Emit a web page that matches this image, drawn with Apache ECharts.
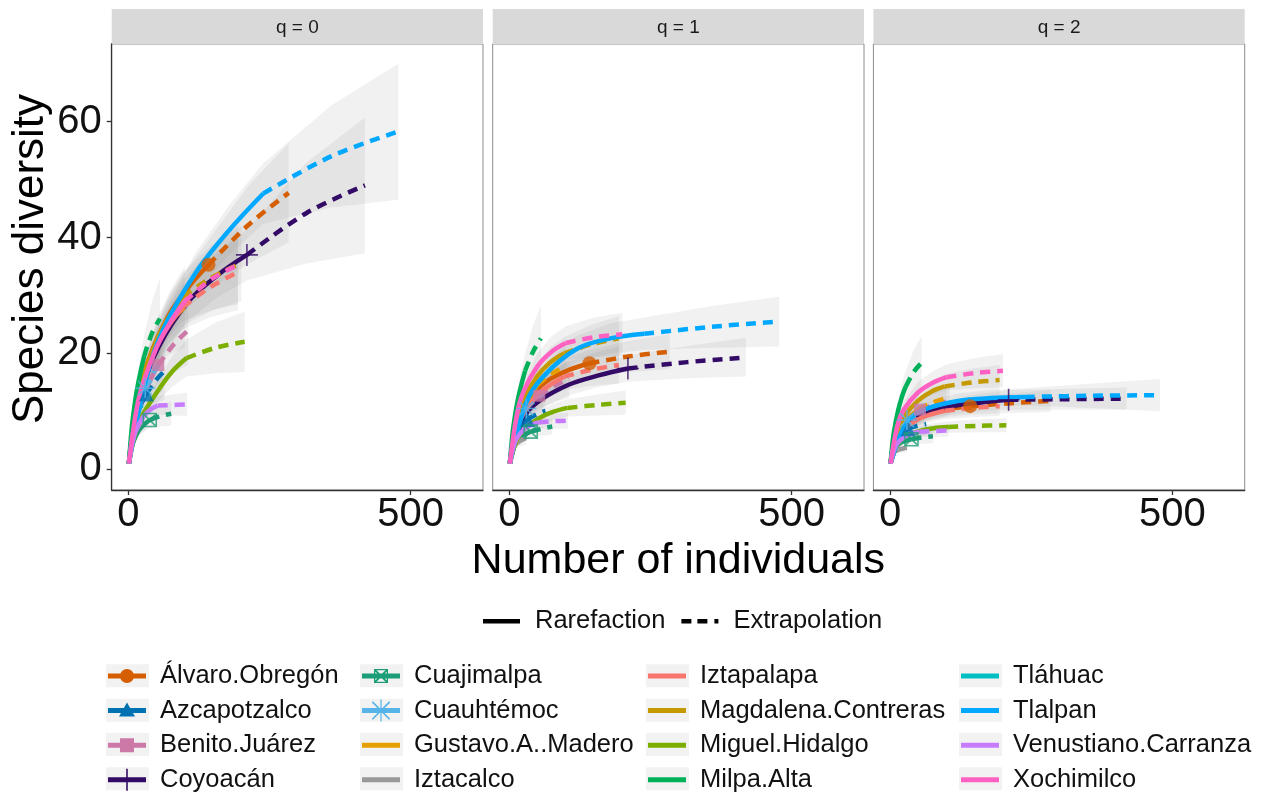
<!DOCTYPE html>
<html>
<head>
<meta charset="utf-8">
<title>Species diversity</title>
<script src="https://cdn.jsdelivr.net/npm/echarts@6/dist/echarts.min.js"></script>
<style>
  html, body { margin: 0; padding: 0; background: #fff; }
  #chart { width: 1261px; height: 793px; }
</style>
</head>
<body>
<div id="chart"></div>
<script>
// --- data ---
const sites = ['Álvaro.Obregón', 'Azcapotzalco', 'Benito.Juárez', 'Coyoacán',
  'Cuajimalpa', 'Cuauhtémoc', 'Gustavo.A..Madero', 'Iztacalco',
  'Iztapalapa', 'Magdalena.Contreras', 'Miguel.Hidalgo', 'Milpa.Alta',
  'Tláhuac', 'Tlalpan', 'Venustiano.Carranza', 'Xochimilco'];
const facets = ['q = 0', 'q = 1', 'q = 2'];
const xTicks = [0, 500];
const yTicks = [0, 20, 40, 60];
const lineTypes = ['Rarefaction', 'Extrapolation'];

// sample sizes m per site; index 5 is the observed sample, the rest after it is extrapolated
const sizeM = [
  [1, 18, 36, 71, 107, 142, 213, 284],
  [1, 4, 8, 16, 24, 32, 48, 64],
  [1, 7, 13, 27, 40, 53, 80, 106],
  [1, 26, 53, 105, 158, 210, 315, 419],
  [1, 5, 10, 19, 29, 38, 57, 76],
  [1, 4, 8, 15, 23, 30, 45, 60],
  [1, 6, 13, 25, 38, 50, 75, 100],
  [1, 2, 4, 8, 11, 15, 23, 30],
  [1, 12, 24, 49, 73, 97, 146, 194],
  [1, 12, 24, 49, 73, 97, 146, 194],
  [1, 13, 26, 52, 77, 103, 155, 206],
  [1, 4, 7, 14, 21, 28, 42, 56],
  [1, 2, 3, 6, 9, 12, 18, 24],
  [1, 30, 60, 120, 179, 239, 359, 478],
  [1, 7, 13, 26, 39, 52, 78, 104],
  [1, 13, 25, 50, 75, 100, 150, 200]
];
const obsIndex = 5;

const q0Est = [
  [1, 12.5, 19, 26.5, 31.5, 35.3, 42.2, 47.7],
  [1, 3.8, 6.3, 9.5, 11.5, 13, 15.3, 17],
  [1, 5.5, 8.5, 12.8, 15.6, 18, 21.5, 24],
  [1, 14, 21, 28.8, 33.5, 37, 44.2, 49],
  [1, 3.3, 5, 6.8, 7.8, 8.5, 9.2, 9.6],
  [1, 3.8, 6.3, 9.6, 12, 14, 16.8, 19],
  [1, 5.2, 9, 14.3, 18.5, 22, 25.5, 28],
  [1, 1.9, 3.3, 5, 6, 7, 8.2, 9],
  [1, 9.5, 14.5, 21, 25, 28, 31.5, 34],
  [1, 10, 15.2, 22, 26.5, 29.8, 33, 35.3],
  [1, 6.5, 9.5, 13.5, 16.8, 19.2, 21, 22],
  [1, 4.8, 8, 13, 16.5, 19.5, 23.5, 26],
  [1, 1.9, 2.8, 4.9, 6.6, 8, 10, 11],
  [1, 15, 23.8, 34, 41.3, 47.6, 54, 58.3],
  [1, 4.4, 6.6, 9, 10.3, 11, 11.1, 11.2],
  [1, 9.5, 14.5, 21, 25.5, 29, 33, 35.5]
];
const q0Lo = [
  [1, 10.5, 16.5, 23.5, 28, 31, 35.5, 39.2],
  [1, 3, 5.2, 7.8, 9.3, 10.3, 11.3, 12],
  [1, 4.6, 7.2, 10.8, 13, 14.8, 16.8, 18],
  [1, 12, 18.3, 25.5, 29.7, 32.6, 35.5, 37.3],
  [1, 2.8, 4.3, 5.8, 6.6, 7.1, 7.4, 7.5],
  [1, 3.2, 5.3, 8, 9.8, 11.2, 12.5, 13.4],
  [1, 4.4, 7.7, 12.2, 15.6, 18.2, 20, 21],
  [1, 1.6, 2.8, 4.2, 5, 5.7, 6.4, 6.8],
  [1, 8.2, 12.6, 18.4, 21.8, 24.2, 26.3, 27.5],
  [1, 8.6, 13.2, 19.1, 22.9, 25.6, 27.4, 28.5],
  [1, 5.6, 8.2, 11.6, 14.2, 16, 16.6, 16.8],
  [1, 4, 6.8, 11, 13.8, 16, 18, 19],
  [1, 1.6, 2.4, 4.1, 5.5, 6.5, 7.5, 8],
  [1, 13, 21, 30.5, 37, 42.4, 45.2, 46.5],
  [1, 3.8, 5.7, 7.8, 8.9, 9.4, 9.3, 9.2],
  [1, 8.2, 12.6, 18.3, 22.1, 25, 27.5, 29]
];
const q0Hi = [
  [1, 14.5, 21.5, 29.5, 35, 39.6, 49, 56.3],
  [1, 4.6, 7.4, 11.2, 13.7, 15.7, 19.3, 22],
  [1, 6.4, 9.8, 14.8, 18.2, 21.2, 26.2, 30],
  [1, 16, 23.7, 32.1, 37.3, 41.4, 52.9, 60.7],
  [1, 3.8, 5.7, 7.8, 9, 9.9, 11, 11.7],
  [1, 4.4, 7.3, 11.2, 14.2, 16.8, 21.1, 24.6],
  [1, 6, 10.3, 16.4, 21.4, 25.8, 31, 35],
  [1, 2.2, 3.8, 5.8, 7, 8.3, 10, 11.2],
  [1, 10.8, 16.4, 23.6, 28.2, 31.8, 36.7, 40.5],
  [1, 11.4, 17.2, 24.9, 30.1, 34, 38.6, 42.1],
  [1, 7.4, 10.8, 15.4, 19.4, 22.4, 25.4, 27.2],
  [1, 5.6, 9.2, 15, 19.2, 23, 29, 33],
  [1, 2.2, 3.2, 5.7, 7.7, 9.5, 12.5, 14],
  [1, 17, 26.6, 37.5, 45.6, 52.8, 62.8, 70],
  [1, 5, 7.5, 10.2, 11.7, 12.6, 12.9, 13.2],
  [1, 10.8, 16.4, 23.7, 28.9, 33, 38.5, 42]
];

const q1Est = [
  [1, 9.5, 12.5, 15.5, 17.2, 18.3, 19.5, 20.3],
  [1, 3.5, 5.3, 7.1, 8, 8.6, 9.5, 10.1],
  [1, 4.8, 7, 9.8, 11.5, 12.7, 14.4, 15.6],
  [1, 9, 11.8, 14.6, 16.2, 17.4, 18.5, 19.3],
  [1, 3, 4.3, 5.5, 6.1, 6.5, 7, 7.4],
  [1, 3.5, 5.4, 7.8, 9.3, 10.5, 11.9, 13],
  [1, 4.5, 7.2, 10.5, 12.8, 14.6, 16.5, 17.8],
  [1, 1.8, 2.9, 3.9, 4.3, 4.6, 5.1, 5.4],
  [1, 6.5, 9.5, 12.8, 14.6, 16, 17.2, 18],
  [1, 8, 11.8, 16, 18.5, 20, 21.6, 22.6],
  [1, 5, 6.9, 8.8, 9.9, 10.6, 11.1, 11.5],
  [1, 4.5, 7.2, 11.5, 14.5, 17, 20.3, 22.6],
  [1, 1.8, 2.6, 4.2, 5.4, 6.3, 7.4, 8],
  [1, 11.5, 16, 20.8, 22.6, 23.4, 24.6, 25.5],
  [1, 3.8, 5.3, 6.9, 7.7, 8.1, 8.3, 8.4],
  [1, 9.2, 13.4, 17.8, 20.3, 21.8, 22.8, 23.3]
];
const q1Lo = [
  [1, 8, 10.8, 13.5, 15, 16, 16.8, 17.3],
  [1, 2.9, 4.4, 5.9, 6.6, 7, 7.5, 7.8],
  [1, 4, 5.9, 8.2, 9.6, 10.5, 11.6, 12.3],
  [1, 7.8, 10.3, 12.8, 14.2, 15.1, 15.7, 16],
  [1, 2.6, 3.7, 4.7, 5.2, 5.5, 5.8, 6],
  [1, 3, 4.6, 6.6, 7.8, 8.7, 9.5, 10.1],
  [1, 3.8, 6.1, 8.9, 10.8, 12.2, 13.4, 14.1],
  [1, 1.6, 2.5, 3.3, 3.6, 3.8, 4.1, 4.3],
  [1, 5.6, 8.2, 11, 12.6, 13.7, 14.4, 14.8],
  [1, 6.9, 10.2, 13.8, 15.9, 17.2, 18.2, 18.8],
  [1, 4.3, 6, 7.6, 8.5, 9.1, 9.3, 9.4],
  [1, 3.8, 6, 9.6, 12, 14, 15.8, 16.8],
  [1, 1.6, 2.2, 3.6, 4.6, 5.3, 5.9, 6.2],
  [1, 10.2, 14.2, 18.5, 20, 20.6, 21, 21.2],
  [1, 3.3, 4.6, 6, 6.7, 7, 7, 7],
  [1, 8, 11.7, 15.5, 17.6, 18.9, 19.4, 19.6]
];
const q1Hi = [
  [1, 11, 14.2, 17.5, 19.4, 20.6, 22.2, 23.3],
  [1, 4.1, 6.2, 8.3, 9.4, 10.2, 11.5, 12.4],
  [1, 5.6, 8.1, 11.4, 13.4, 14.9, 17.2, 18.9],
  [1, 10.2, 13.3, 16.4, 18.2, 19.7, 21.3, 22.7],
  [1, 3.4, 4.9, 6.3, 7, 7.5, 8.2, 8.8],
  [1, 4, 6.2, 9, 10.8, 12.3, 14.3, 15.9],
  [1, 5.2, 8.3, 12.1, 14.8, 17, 19.6, 21.5],
  [1, 2, 3.3, 4.5, 5, 5.4, 6.1, 6.5],
  [1, 7.4, 10.8, 14.6, 16.6, 18.3, 20, 21.2],
  [1, 9.1, 13.4, 18.2, 21.1, 22.8, 25, 26.4],
  [1, 5.7, 7.8, 10, 11.3, 12.1, 12.9, 13.6],
  [1, 5.2, 8.4, 13.4, 17, 20, 24.8, 28.4],
  [1, 2, 3, 4.8, 6.2, 7.3, 8.9, 9.8],
  [1, 12.8, 17.8, 23.1, 25.2, 26.2, 28.2, 29.8],
  [1, 4.3, 6, 7.8, 8.7, 9.2, 9.6, 9.8],
  [1, 10.4, 15.1, 20.1, 23, 24.7, 26.2, 27]
];

const q2Est = [
  [1, 7, 8.6, 9.8, 10.5, 10.9, 11.4, 11.8],
  [1, 3.2, 4.6, 6, 6.6, 7, 7.5, 7.8],
  [1, 4.3, 6.1, 8.3, 9.5, 10.3, 11.2, 11.8],
  [1, 7.5, 9.3, 10.8, 11.5, 12, 12.1, 12.2],
  [1, 2.8, 3.8, 4.6, 5, 5.2, 5.5, 5.7],
  [1, 3.2, 4.7, 6.5, 7.6, 8.5, 9.2, 9.6],
  [1, 4, 5.8, 7.9, 9.3, 10.4, 11.5, 12.3],
  [1, 1.7, 2.5, 3, 3.2, 3.4, 3.6, 3.7],
  [1, 5, 6.8, 8.6, 9.5, 10.1, 10.6, 10.9],
  [1, 6.5, 9, 11.8, 13.4, 14.3, 15, 15.4],
  [1, 4.3, 5.6, 6.6, 7.1, 7.3, 7.5, 7.6],
  [1, 4.2, 6.5, 10, 12.5, 14.3, 16.8, 18.4],
  [1, 1.7, 2.4, 3.7, 4.6, 5.2, 5.8, 6.1],
  [1, 8.2, 10.3, 11.8, 12.3, 12.5, 12.7, 12.8],
  [1, 3.3, 4.5, 5.6, 6.2, 6.5, 6.6, 6.7],
  [1, 7.5, 10.4, 13.3, 14.9, 15.9, 16.6, 17]
];
const q2Lo = [
  [1, 6, 7.4, 8.5, 9.1, 9.4, 9.7, 9.9],
  [1, 2.7, 3.8, 4.9, 5.3, 5.5, 5.7, 5.8],
  [1, 3.7, 5.2, 7, 8, 8.6, 9.1, 9.4],
  [1, 6.5, 8.1, 9.4, 10, 10.3, 10.3, 10.3],
  [1, 2.4, 3.2, 3.9, 4.2, 4.3, 4.4, 4.5],
  [1, 2.8, 4, 5.5, 6.4, 7, 7.4, 7.6],
  [1, 3.4, 5, 6.7, 7.9, 8.8, 9.5, 9.9],
  [1, 1.5, 2.2, 2.6, 2.7, 2.8, 2.9, 2.9],
  [1, 4.4, 5.9, 7.5, 8.2, 8.7, 9, 9.2],
  [1, 5.6, 7.8, 10.2, 11.5, 12.2, 12.6, 12.8],
  [1, 3.8, 4.9, 5.8, 6.2, 6.3, 6.4, 6.4],
  [1, 3.6, 5.5, 8.4, 10.3, 11.6, 13, 13.8],
  [1, 1.5, 2.1, 3.2, 3.9, 4.4, 4.7, 4.9],
  [1, 7.3, 9.2, 10.5, 10.9, 11, 10.6, 10],
  [1, 2.9, 3.9, 4.9, 5.4, 5.6, 5.6, 5.6],
  [1, 6.5, 9, 11.5, 12.9, 13.7, 14, 14.1]
];
const q2Hi = [
  [1, 8, 9.8, 11.1, 11.9, 12.4, 13.1, 13.7],
  [1, 3.7, 5.4, 7.1, 7.9, 8.5, 9.3, 9.8],
  [1, 4.9, 7, 9.6, 11, 12, 13.3, 14.2],
  [1, 8.5, 10.5, 12.2, 13, 13.7, 13.9, 14.1],
  [1, 3.2, 4.4, 5.3, 5.8, 6.1, 6.6, 6.9],
  [1, 3.6, 5.4, 7.5, 8.8, 10, 11, 11.6],
  [1, 4.6, 6.6, 9.1, 10.7, 12, 13.5, 14.7],
  [1, 1.9, 2.8, 3.4, 3.7, 4, 4.3, 4.5],
  [1, 5.6, 7.7, 9.7, 10.8, 11.5, 12.2, 12.6],
  [1, 7.4, 10.2, 13.4, 15.3, 16.4, 17.4, 18],
  [1, 4.8, 6.3, 7.4, 8, 8.3, 8.6, 8.8],
  [1, 4.8, 7.5, 11.6, 14.7, 17, 20.6, 23],
  [1, 1.9, 2.7, 4.2, 5.3, 6, 6.9, 7.3],
  [1, 9.1, 11.4, 13.1, 13.7, 14, 14.8, 15.6],
  [1, 3.7, 5.1, 6.3, 7, 7.4, 7.6, 7.8],
  [1, 8.5, 11.8, 15.1, 16.9, 18.1, 19.2, 19.9]
];

// --- styles ---
const colors = ['#D55E00', '#0072B2', '#CC79A7', '#330A66', '#1B9E77', '#56B4E9',
  '#E69F00', '#999999', '#F8766D', '#C49A00', '#7CAE00', '#00B159',
  '#00BFC4', '#00A9FF', '#C77CFF', '#FF61C3'];
const fontFamily = '"Liberation Sans", Arial, sans-serif';

const qEst = [q0Est, q1Est, q2Est];
const qLo = [q0Lo, q1Lo, q2Lo];
const qHi = [q0Hi, q1Hi, q2Hi];

// panel geometry (pixels)
const panelLeft = [111.7, 492.7, 873.4];
const panelWidth = 371.3;
const panelTop = 44;
const panelHeight = 446;
const xMin = -29.4, xMax = 628;
const yMin = -3.57, yMax = 73.4;

// markers at the observed sample for the first six sites
const markerSymbols = [
  { symbol: 'circle', size: 14, fill: true },
  { symbol: 'triangle', size: 15, fill: true },
  { symbol: 'rect', size: 12, fill: true },
  { symbol: 'path://M10,0L10,20M0,10L20,10', size: 22, fill: false },
  { symbol: 'path://M0,0L12,0L12,12L0,12ZM0,0L12,12M12,0L0,12', size: 13, fill: false },
  { symbol: 'path://M10,0L10,20M0,10L20,10M3,3L17,17M17,3L3,17', size: 20, fill: false }
];

// legend key icons (filled shapes in a 49 x 22 box)
const anchor = 'M0,0L0.01,0L0,0.01Z M49,22L48.99,22L49,21.99Z ';
const keyLine = 'M2,8.5L40,8.5L40,13.5L2,13.5Z ';
const keyMarks = [
  'M21,4A7,7 0 1 1 20.99,4Z',
  'M21,3L29,17L13,17Z',
  'M14,4L28,4L28,18L14,18Z',
  'M20.2,0L21.8,0L21.8,22L20.2,22Z',
  'M14,4L28,4L28,18L14,18Z M15.3,5.3L15.3,16.7L26.7,16.7L26.7,5.3Z ' +
    'M14,4L15.3,4L28,16.7L28,18L26.7,18L14,5.3Z M28,4L28,5.3L15.3,18L14,18L14,16.7L26.7,4Z',
  'M20.4,0L21.6,0L21.6,22L20.4,22Z M12,2L13.2,2L30,18.8L30,20L28.8,20L12,3.2Z ' +
    'M30,2L30,3.2L13.2,20L12,20L12,18.8L28.8,2Z'
];
function keyIcon(i) {
  return 'path://' + anchor + keyLine + (keyMarks[i] || '');
}

const series = [];

// confidence bands
for (let g = 0; g < 3; g++) {
  sites.forEach((s, i) => {
    const rows = sizeM[i].map((m, k) => [m, qLo[g][i][k], qHi[g][i][k]]);
    series.push({
      type: 'custom',
      xAxisIndex: g,
      yAxisIndex: g,
      silent: true,
      z: 1,
      data: rows,
      encode: { x: 0, y: [1, 2] },
      renderItem: (params, api) => {
        if (params.dataIndex !== 0) return null;
        const upper = rows.map(r => api.coord([r[0], r[2]]));
        const lower = rows.map(r => api.coord([r[0], r[1]])).reverse();
        return {
          type: 'polygon',
          shape: { points: upper.concat(lower) },
          style: { fill: 'rgba(140,140,140,0.12)' }
        };
      }
    });
  });
}

// rarefaction (solid) and extrapolation (dashed) curves
for (let g = 0; g < 3; g++) {
  sites.forEach((s, i) => {
    const pts = sizeM[i].map((m, k) => [m, qEst[g][i][k]]);
    series.push({
      type: 'line', name: s, xAxisIndex: g, yAxisIndex: g, silent: true, z: 3,
      data: pts.slice(0, obsIndex + 1),
      smooth: 0.35, symbol: 'none',
      lineStyle: { color: colors[i], width: 4.5 },
      itemStyle: { color: colors[i] }
    });
    series.push({
      type: 'line', name: s + ' (extrapolated)', xAxisIndex: g, yAxisIndex: g, silent: true, z: 3,
      data: pts.slice(obsIndex),
      smooth: 0.35, symbol: 'none',
      lineStyle: { color: colors[i], width: 4.5, type: [10, 7], cap: 'butt' },
      itemStyle: { color: colors[i] }
    });
  });
}

// observed-sample markers
for (let g = 0; g < 3; g++) {
  markerSymbols.forEach((mk, i) => {
    series.push({
      type: 'scatter', xAxisIndex: g, yAxisIndex: g, silent: true, z: 5,
      symbol: mk.symbol, symbolSize: mk.size,
      data: [[sizeM[i][obsIndex], qEst[g][i][obsIndex]]],
      itemStyle: mk.fill
        ? { color: colors[i], borderWidth: 0 }
        : { color: 'none', borderColor: colors[i], borderWidth: 1.6 }
    });
  });
}

// legend-only series for the line types
lineTypes.forEach(name => {
  series.push({ type: 'line', name: name, xAxisIndex: 0, yAxisIndex: 0, data: [],
    lineStyle: { color: '#000' }, itemStyle: { color: '#000' } });
});

const grids = facets.map((f, g) => ({
  left: panelLeft[g], top: panelTop, width: panelWidth, height: panelHeight,
  show: true, borderColor: '#8c8c8c', borderWidth: 1, backgroundColor: '#fff'
}));

const xAxes = facets.map((f, g) => ({
  type: 'value', gridIndex: g, min: xMin, max: xMax,
  splitLine: { show: false },
  axisLine: { show: true, onZero: false, lineStyle: { color: '#333', width: 1.3 } },
  axisTick: { show: true, customValues: xTicks, length: 5, lineStyle: { color: '#333', width: 1.3 } },
  axisLabel: { customValues: xTicks, fontSize: 40, color: '#111', margin: 5, fontFamily },
  name: g === 1 ? 'Number of individuals' : '',
  nameLocation: 'middle', nameGap: 47,
  nameTextStyle: { fontSize: 43, color: '#000', fontFamily }
}));

const yAxes = facets.map((f, g) => ({
  type: 'value', gridIndex: g, min: yMin, max: yMax,
  splitLine: { show: false },
  axisLine: { show: g === 0, onZero: false, lineStyle: { color: '#333', width: 1.3 } },
  axisTick: { show: g === 0, customValues: yTicks, length: 5, lineStyle: { color: '#333', width: 1.3 } },
  axisLabel: { show: g === 0, customValues: yTicks, fontSize: 40, color: '#111', margin: 10, fontFamily },
  name: g === 0 ? 'Species diversity' : '',
  nameLocation: 'middle', nameGap: 44, nameRotate: 90,
  nameTextStyle: { fontSize: 44, color: '#000', fontFamily, padding: [0, 0, 0, 16] }
}));

// facet strips and legend key backgrounds
const graphics = [];
facets.forEach((f, g) => {
  graphics.push({
    type: 'rect', z: 0,
    shape: { x: panelLeft[g], y: 9, width: panelWidth, height: 35 },
    style: { fill: '#D9D9D9' }
  });
  graphics.push({
    type: 'text', z: 1,
    style: { text: f, x: panelLeft[g] + panelWidth / 2, y: 27.5, align: 'center', verticalAlign: 'middle',
      fontSize: 19, fontFamily, fill: '#1A1A1A' }
  });
});

const legendCols = [[0, 1, 2, 3], [4, 5, 6, 7], [8, 9, 10, 11], [12, 13, 14, 15]];
const legendLeft = [106, 360, 646, 959];
const legendTop = 663;
const rowPitch = 34.3;
const textOverhang = 1.85; // text box is slightly taller than the 22px icon
legendCols.forEach((col, c) => {
  col.forEach((i, r) => {
    graphics.push({
      type: 'rect', z: 0,
      shape: { x: legendLeft[c], y: legendTop + textOverhang + r * rowPitch - 0.5, width: 43, height: 23 },
      style: { fill: '#F2F2F2' }
    });
  });
});

const siteLegends = legendCols.map((col, c) => ({
  orient: 'vertical', left: legendLeft[c], top: legendTop, height: 160, padding: 0,
  itemWidth: 49, itemHeight: 22, itemGap: 8.6,
  selectedMode: false,
  textStyle: { fontSize: 25.5, color: '#111', fontFamily, lineHeight: 22 },
  data: col.map(i => ({
    name: sites[i], icon: keyIcon(i),
    itemStyle: { color: colors[i], borderWidth: 0 }
  }))
}));

const typeLegend = {
  orient: 'horizontal', left: 483, top: 608, padding: 0,
  itemWidth: 47, itemHeight: 22, itemGap: 16,
  selectedMode: false,
  textStyle: { fontSize: 25.5, color: '#111', fontFamily, lineHeight: 22 },
  data: [
    { name: 'Rarefaction', icon: 'path://M0,0L0.01,0L0,0.01Z M47,22L46.99,22L47,21.99Z M0,9L37,9L37,13.5L0,13.5Z',
      itemStyle: { color: '#000', borderWidth: 0 } },
    { name: 'Extrapolation', icon: 'path://M0,0L0.01,0L0,0.01Z M47,22L46.99,22L47,21.99Z M0,9L10,9L10,13.5L0,13.5Z M16,9L26,9L26,13.5L16,13.5Z M33,9L37,9L37,13.5L33,13.5Z',
      itemStyle: { color: '#000', borderWidth: 0 } }
  ]
};

const chart = echarts.init(document.getElementById('chart'));
chart.setOption({
  animation: false,
  backgroundColor: '#fff',
  grid: grids,
  xAxis: xAxes,
  yAxis: yAxes,
  legend: [typeLegend].concat(siteLegends),
  graphic: graphics,
  series: series
});
</script>
</body>
</html>
